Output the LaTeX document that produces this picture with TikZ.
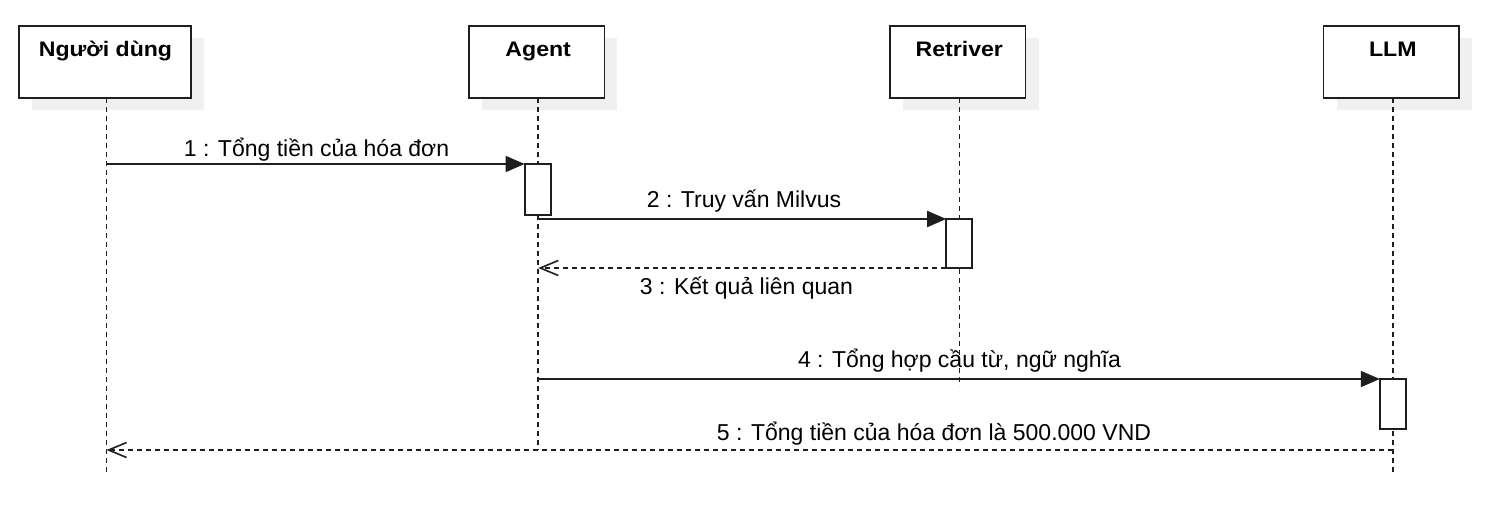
\documentclass[tikz,border=0pt]{standalone}
\usepackage{fontspec}
\setmainfont{Liberation Sans}
\newfontfamily\hdrfont[FakeStretch=1.1]{Liberation Sans}
\usetikzlibrary{arrows.meta,shadows,calc}
\definecolor{ink}{HTML}{1E1E1E}
\begin{document}
\begin{tikzpicture}[x=1pt,y=-1pt,
  lane/.style={draw=ink, line width=1.8pt, fill=white, minimum height=72pt, inner sep=0pt, outer sep=0pt,
    general shadow={fill=black!6, shadow xshift=13pt, shadow yshift=-12pt}},
  hdr/.style={font=\hdrfont\bfseries\fontsize{21}{25}\selectfont, anchor=base, inner sep=0pt},
  msg/.style={font=\fontsize{23}{27}\selectfont, anchor=base, inner sep=0pt},
  act/.style={draw=ink, line width=1.8pt, fill=white, minimum width=26pt, inner sep=0pt, outer sep=0pt},
  life/.style={draw=ink, line width=1.6pt, dash pattern=on 5pt off 4pt},
  call/.style={draw=ink, line width=1.8pt, -{Triangle[length=19pt,width=16pt]}},
  reply/.style={draw=ink, line width=1.6pt, dash pattern=on 5pt off 4pt, -{Straight Barb[length=18pt,width=15pt]}}
]
\useasboundingbox (0,0) rectangle (1511,508);
\fill[white] (0,0) rectangle (1511,508);

% lane heads
\node[lane, minimum width=172pt] (user) at (105,62) {};
\node[lane, minimum width=135.5pt] (agent) at (536.7,62) {};
\node[lane, minimum width=135.5pt] (retr) at (957.8,62) {};
\node[lane, minimum width=135.5pt] (llm) at (1391.3,62) {};

\node[hdr] (userT) at (105.5,57) {Người dùng};
\node[hdr] (agentT) at (538.2,57) {Agent};
\node[hdr] (retrT) at (959.3,57) {Retriver};
\node[hdr] (llmT) at (1392.8,57) {LLM};

% lifelines
\coordinate (userEnd) at (106.5,472);
\coordinate (agentEnd) at (538.2,450);
\coordinate (retrEnd) at (959.3,386);
\coordinate (llmEnd) at (1392.8,472);
\draw[life] ([xshift=1.5pt]user.south) -- (userEnd);
\draw[life] ([xshift=1.5pt]agent.south) -- (agentEnd);
\draw[life] ([xshift=1.5pt]retr.south) -- (retrEnd);
\draw[life] ([xshift=1.5pt]llm.south) -- (llmEnd);

% activations
\node[act, minimum height=51pt] (act1) at (537.6,189.5) {};
\node[act, minimum height=49pt] (act2) at (959.2,243.5) {};
\node[act, minimum height=50pt] (act3) at (1392.8,404) {};

% messages
\draw[call] (userEnd |- act1.north) -- (act1.north west);
\draw[call] (agentEnd |- act2.north) -- (act2.north west);
\draw[reply] (act2.south west) -- (agentEnd |- act2.south);
\draw[call] (agentEnd |- act3.north) -- (act3.north west);
\draw[reply] (llmEnd |- agentEnd) -- (userEnd |- agentEnd);

% labels
\node[msg] (l1) at (316.5,156.5) {1 : Tổng tiền của hóa đơn};
\node[msg] (l2) at (744,207) {2 : Truy vấn Milvus};
\node[msg] (l3) at (746.5,294.5) {3 : Kết quả liên quan};
\node[msg] (l4) at (959.5,367.5) {4 : Tổng hợp cầu từ, ngữ nghĩa};
\node[msg] (l5) at (934,440) {5 : Tổng tiền của hóa đơn là 500.000 VND};
\end{tikzpicture}
\end{document}
